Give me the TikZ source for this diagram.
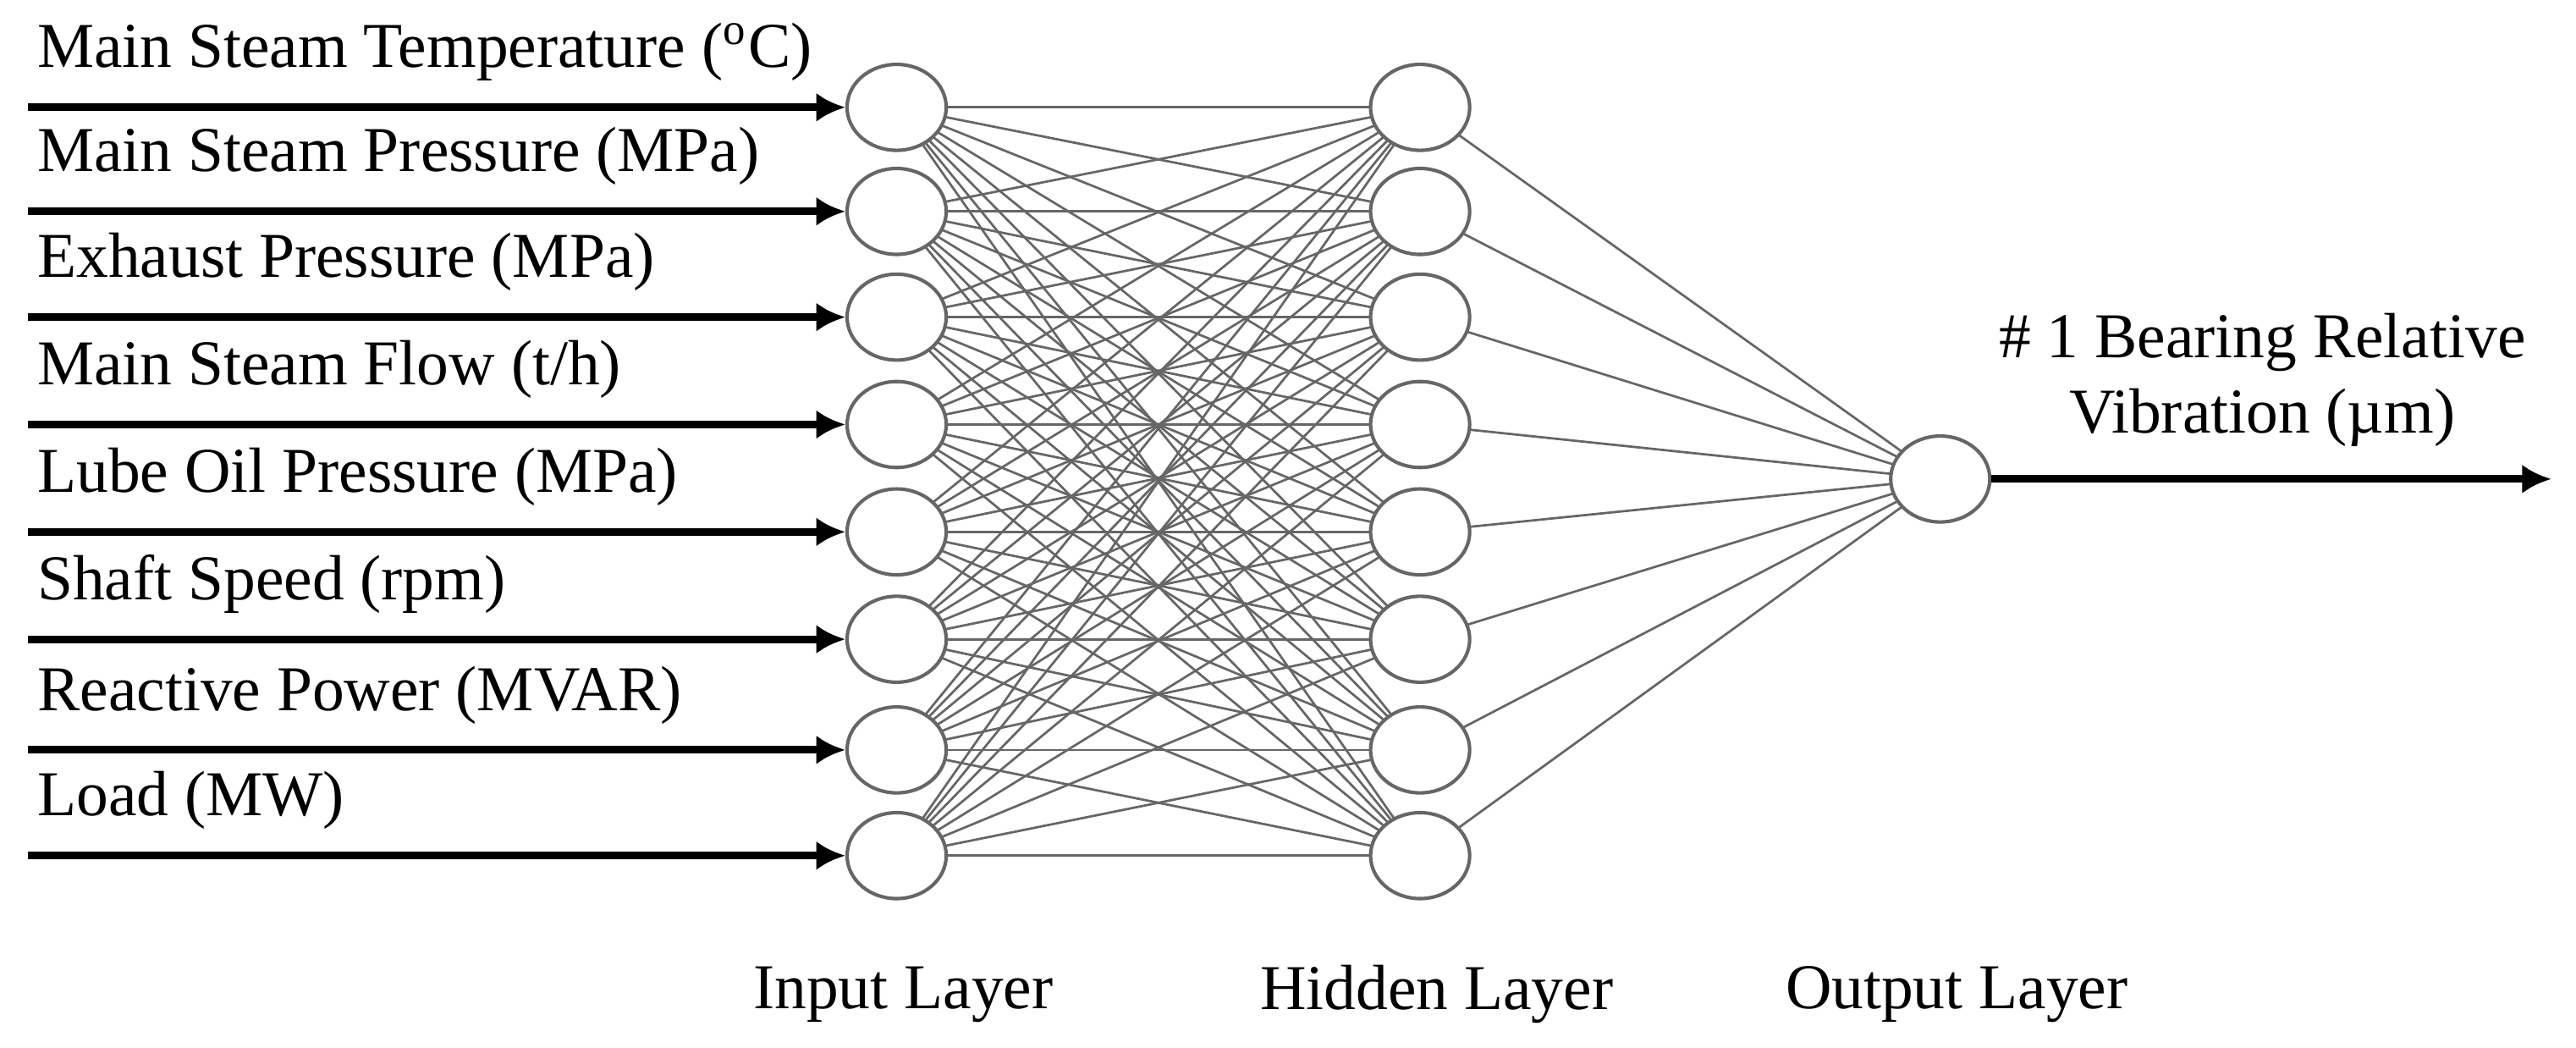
\documentclass[tikz,border=0pt]{standalone}
\usepackage{fontspec}
\setmainfont{Liberation Serif}
\usetikzlibrary{arrows.meta,shapes.geometric,calc}
\begin{document}
\begin{tikzpicture}[x=0.01cm,y=-0.01cm,
  neuron/.style={draw=black!60,line width=0.6pt,ellipse,minimum width=0.6cm,minimum height=0.52cm,inner sep=0pt,fill=white},
  link/.style={draw=black!60,line width=0.4pt},
  inarrow/.style={line width=1.3pt,-{Latex[length=5pt,width=5pt]}},
  lab/.style={font=\fontsize{11}{12}\selectfont,anchor=base west,inner sep=0pt}]
\useasboundingbox (0,0) rectangle (1560,634);
\foreach \i/\y in {1/65,2/128,3/192,4/257,5/322,6/387,7/454,8/518}{
  \coordinate (in\i) at (543,\y);
  \coordinate (hd\i) at (860,\y);
}
\coordinate (out) at (1175,290);
\foreach \i in {1,...,8}{\foreach \j in {1,...,8}{\draw[link] (in\i) -- (hd\j);}
  \draw[link] (hd\i) -- (out);}
\foreach \i in {1,...,8}{\node[neuron] (I\i) at (in\i) {}; \node[neuron] (H\i) at (hd\i) {};}
\node[neuron] (O) at (out) {};
\foreach \i/\t in {1/{Main Steam Temperature (\textsuperscript{o}C)},2/{Main Steam Pressure (MPa)},3/{Exhaust Pressure (MPa)},4/{Main Steam Flow (t/h)},5/{Lube Oil Pressure (MPa)},6/{Shaft Speed (rpm)},7/{Reactive Power (MVAR)},8/{Load (MW)}}{
  \coordinate (s\i) at ($(I\i.west)+(-495,0)$);
  \draw[inarrow] (s\i) -- (I\i.west);
  \node[lab] (L\i) at ($(s\i)+(5,-24)$) {\t};
}
\coordinate (oe) at (1545,290);
\draw[inarrow] (O.east) -- (oe);
\node[font=\fontsize{11}{13}\selectfont,align=center] (OL) at (1370,230) {\# 1 Bearing Relative\\Vibration (µm)};
\node[font=\fontsize{11}{12}\selectfont] (t1) at (547,602) {Input Layer};
\node[font=\fontsize{11}{12}\selectfont] (t2) at (870,602) {Hidden Layer};
\node[font=\fontsize{11}{12}\selectfont] (t3) at (1185,602) {Output Layer};
\end{tikzpicture}
\end{document}
